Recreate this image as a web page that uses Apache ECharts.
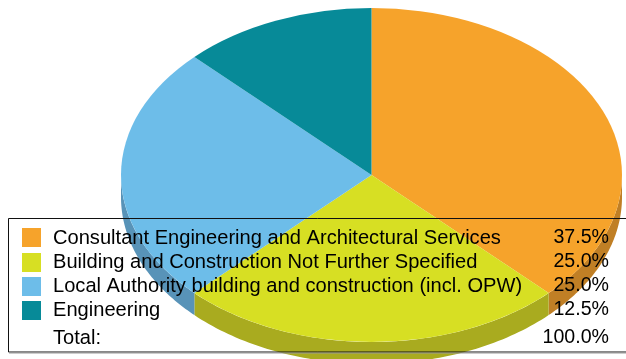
<!DOCTYPE html>
<html>
<head>
<meta charset="utf-8">
<style>
  html, body { margin: 0; padding: 0; background: #fff; }
  #main { width: 626px; height: 359px; }
</style>
<script src="https://cdn.jsdelivr.net/npm/echarts@6/dist/echarts.min.js"></script>
</head>
<body>
<div id="main"></div>
<script>
const categories = [
  'Consultant Engineering and Architectural Services',
  'Building and Construction Not Further Specified',
  'Local Authority building and construction (incl. OPW)',
  'Engineering'
];
const shares = [37.5, 25.0, 25.0, 12.5];
const shareLabels = ['37.5%', '25.0%', '25.0%', '12.5%'];
const totalLabel = 'Total:';
const totalValue = '100.0%';
const topColors = ['#f6a32b', '#d7df23', '#6dbde9', '#078a98'];
const sideColors = ['#c07f25', '#a9ab1f', '#5893b8', '#056a75'];

const cx = 371.5, cy = 175, rx = 250.5, ry = 167, depth = 22;
const FONT = '"Liberation Sans", Arial, sans-serif';
const sum = shares.reduce((a, b) => a + b, 0);

// angle measured clockwise from 12 o'clock
function rimPoint(a, dy) {
  return [cx + rx * Math.sin(a), cy - ry * Math.cos(a) + dy];
}

function renderSlice(params, api) {
  const i = params.dataIndex;
  let before = 0;
  for (let k = 0; k < i; k++) before += shares[k];
  const start = before / sum * Math.PI * 2;
  const end = start + api.value(0) / sum * Math.PI * 2;
  const children = [];

  // side wall, only the front half of the rim shows
  const from = Math.max(start, Math.PI / 2);
  const to = Math.min(end, Math.PI * 1.5);
  if (to > from) {
    const top = [], bottom = [];
    const steps = 80;
    for (let s = 0; s <= steps; s++) {
      const a = from + (to - from) * s / steps;
      top.push(rimPoint(a, 0));
      bottom.unshift(rimPoint(a, depth));
    }
    children.push({
      type: 'polygon',
      shape: { points: top.concat(bottom) },
      style: { fill: sideColors[i] }
    });
  }

  // top face: a sector squashed into the ellipse
  children.push({
    type: 'sector',
    x: cx,
    y: cy,
    scaleY: ry / rx,
    shape: {
      cx: 0, cy: 0, r0: 0, r: rx,
      startAngle: start - Math.PI / 2,
      endAngle: end - Math.PI / 2,
      clockwise: true
    },
    style: { fill: topColors[i] }
  });
  return { type: 'group', children: children };
}

const rowY = [238, 262, 286, 310];
const swatchY = [228, 253, 277, 301];
const legendItems = [];
legendItems.push({
  type: 'rect',
  shape: { x: 8.5, y: 218.5, width: 640, height: 133.5 },
  style: { fill: 'none', stroke: '#111', lineWidth: 1 },
  z: 10
});
legendItems.push({
  type: 'line',
  shape: { x1: 9, y1: 353, x2: 626, y2: 353 },
  style: { stroke: '#999', lineWidth: 1 },
  z: 10
});
categories.forEach((name, i) => {
  legendItems.push({
    type: 'rect',
    shape: { x: 22, y: swatchY[i], width: 19, height: 19 },
    style: { fill: topColors[i] },
    z: 11
  });
  legendItems.push({
    type: 'text', x: 53, y: rowY[i],
    style: { text: name, font: '20.1px ' + FONT, fill: '#000', textVerticalAlign: 'middle' },
    z: 11
  });
  legendItems.push({
    type: 'text', x: 609, y: rowY[i],
    style: { text: shareLabels[i], font: '19.6px ' + FONT, fill: '#000', textAlign: 'right', textVerticalAlign: 'middle' },
    z: 11
  });
});
legendItems.push({
  type: 'text', x: 53, y: 338,
  style: { text: totalLabel, font: '20.1px ' + FONT, fill: '#000', textVerticalAlign: 'middle' },
  z: 11
});
legendItems.push({
  type: 'text', x: 609, y: 338,
  style: { text: totalValue, font: '19.6px ' + FONT, fill: '#000', textAlign: 'right', textVerticalAlign: 'middle' },
  z: 11
});

const chart = echarts.init(document.getElementById('main'));
chart.setOption({
  animation: false,
  backgroundColor: '#fff',
  series: [{
    type: 'custom',
    coordinateSystem: 'none',
    renderItem: renderSlice,
    data: shares.map(v => [v])
  }],
  graphic: { elements: legendItems }
});
</script>
</body>
</html>
